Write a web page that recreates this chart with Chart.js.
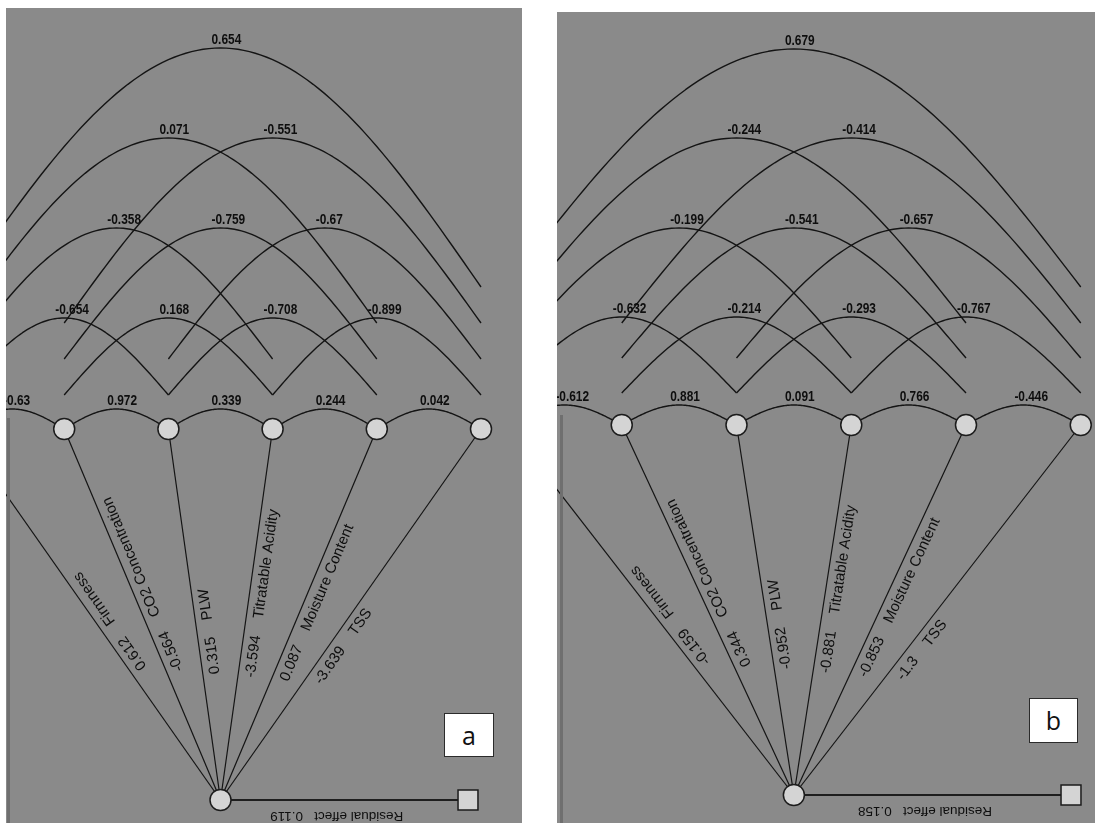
<!DOCTYPE html>
<html><head><meta charset="utf-8">
<script src="https://cdn.jsdelivr.net/npm/chart.js@4.4.1/dist/chart.umd.min.js"></script>
<style>
html,body{margin:0;padding:0;background:#fff;width:1095px;height:823px;overflow:hidden;position:relative}
.panel{position:absolute;background:#8a8a8a;overflow:hidden}
.panel canvas{position:absolute;left:0;top:0}
.bar{position:absolute;width:3px;background:#6f6f6f}
.tag{position:absolute;background:#fff;border:1.5px solid #2b2b2b;box-sizing:border-box;font-family:"Open Sans",sans-serif;font-size:25px;color:#111;display:flex;align-items:center;justify-content:center;line-height:1}
</style></head><body>
<div class="panel" id="pa" style="left:6px;top:8px;width:516px;height:815px"><canvas id="ca" width="516" height="815"></canvas></div>
<div class="panel" id="pb" style="left:557px;top:12px;width:538px;height:811px"><canvas id="cb" width="538" height="811"></canvas></div>
<div class="bar" style="left:7px;top:418px;height:405px"></div>
<div class="bar" style="left:560px;top:415px;height:408px"></div>
<div class="tag" id="ta" style="left:444px;top:713px;width:50px;height:44px"></div>
<div class="tag" id="tb" style="left:1029px;top:698px;width:49px;height:45px"></div>
<script>
// ---------- data ----------
const traits = ['Firmness','CO2 Concentration','PLW','Titratable Acidity','Moisture Content','TSS'];
const directA = [0.612, -0.564, 0.315, -3.594, 0.087, -3.639];
const directB = [-0.159, 0.344, -0.952, -0.881, -0.853, -1.3];
// correlations between trait i and trait i+span
const corrA1 = [-0.63, 0.972, 0.339, 0.244, 0.042];
const corrA2 = [-0.654, 0.168, -0.708, -0.899];
const corrA3 = [-0.358, -0.759, -0.67];
const corrA4 = [0.071, -0.551];
const corrA5 = [0.654];
const corrB1 = [-0.612, 0.881, 0.091, 0.766, -0.446];
const corrB2 = [-0.632, -0.214, -0.293, -0.767];
const corrB3 = [-0.199, -0.541, -0.657];
const corrB4 = [-0.244, -0.414];
const corrB5 = [0.679];
const residualA = 0.119;
const residualB = 0.158;
const panelTags = ['a', 'b'];

// ---------- layout (page pixels) ----------
const layoutA = {left:6, top:8, w:516, h:815, x0:-40, sp:104.2, row:429, bottom:800, resX:468,
  peaks:[20,111,201,291,381], ends:[0,34,70,106,142]};
const layoutB = {left:557, top:12, w:538, h:811, x0:507, sp:114.75, row:425, bottom:795, resX:1071,
  peaks:[20,108,197,287,376], ends:[0,32,67,102,138]};

const INK = '#141414';
const NODE_FILL = '#d4d4d4';

const pathPlugin = {
  id: 'pathDiagram',
  beforeDatasetsDraw(chart) {
    const o = chart.options.plugins.pathDiagram;
    const {ctx} = chart; const xs = chart.scales.x, ys = chart.scales.y;
    ctx.save();
    ctx.strokeStyle = INK; ctx.lineWidth = 1.4; ctx.lineJoin = 'round';
    o.corr.forEach((arr, s) => {
      const span = s + 1;
      arr.forEach((v, i) => {
        const xl = xs.getPixelForValue(i), xr = xs.getPixelForValue(i + span);
        const xc = (xl + xr) / 2, hw = (xr - xl) / 2;
        const yp = ys.getPixelForValue(o.peaks[s]), ye = ys.getPixelForValue(o.ends[s]);
        ctx.beginPath();
        const N = 90;
        for (let k = 0; k <= N; k++) {
          const t = -1 + 2 * k / N;
          const px = xc + t * hw;
          const py = yp + (ye - yp) * (1 - Math.cos(Math.PI / 2 * Math.abs(t)));
          if (k) ctx.lineTo(px, py); else ctx.moveTo(px, py);
        }
        ctx.stroke();
      });
    });
    ctx.restore();
  },
  afterDatasetsDraw(chart) {
    const o = chart.options.plugins.pathDiagram;
    const {ctx} = chart; const xs = chart.scales.x, ys = chart.scales.y;
    ctx.save();
    ctx.fillStyle = '#0e0e0e';
    // correlation labels
    ctx.font = 'bold 14.5px "Liberation Sans", Arial, sans-serif';
    ctx.textAlign = 'left'; ctx.textBaseline = 'alphabetic';
    o.corr.forEach((arr, s) => {
      const span = s + 1;
      arr.forEach((v, i) => {
        const xl = xs.getPixelForValue(i), xr = xs.getPixelForValue(i + span);
        const xc = (xl + xr) / 2;
        const yp = ys.getPixelForValue(o.peaks[s]);
        ctx.save();
        ctx.translate(xc - 9, yp - 4);
        ctx.scale(0.82, 1);
        ctx.fillText(String(v), 0, 0);
        ctx.restore();
      });
    });
    // direct effect labels along fan lines
    const bx = xs.getPixelForValue(o.mid), by = ys.getPixelForValue(o.yb);
    ctx.font = '15px "Liberation Sans", Arial, sans-serif';
    ctx.textBaseline = 'middle';
    traits.forEach((t, i) => {
      const tx = xs.getPixelForValue(i), ty = ys.getPixelForValue(0);
      const ang = Math.atan2(ty - by, tx - bx);
      const len = Math.hypot(tx - bx, ty - by);
      const vs = String(o.direct[i]);
      ctx.save();
      ctx.translate(bx, by); ctx.rotate(ang);
      const start = 0.335 * len;
      ctx.fillText(vs, start, 12.5);
      const w = ctx.measureText(vs).width;
      ctx.fillText(t, start + w + 17, 12.5);
      ctx.restore();
    });
    // residual label (upside down)
    const rx = xs.getPixelForValue(o.resX);
    ctx.font = '13.5px "Liberation Sans", Arial, sans-serif';
    ctx.save();
    ctx.translate((bx + rx) / 2 - 7.5, by + 16);
    ctx.rotate(Math.PI);
    ctx.textAlign = 'center';
    ctx.fillText('Residual effect   ' + o.resid, 0, 0);
    ctx.restore();
    ctx.restore();
  }
};

function makeChart(id, L, direct, corr, resid) {
  const n = traits.length;
  const mid = (n - 1) / 2;
  const yb = -(L.bottom - L.row);
  const resX = (L.resX - L.x0) / L.sp;
  const nodeStyle = {pointRadius:10.5, pointHoverRadius:10.5, pointBackgroundColor:NODE_FILL,
    pointBorderColor:'#1c1c1c', pointBorderWidth:1.5, showLine:false, order:0};
  const datasets = [];
  datasets.push(Object.assign({label:'traits', data: traits.map((t, i) => ({x:i, y:0}))}, nodeStyle));
  datasets.push(Object.assign({label:'outcome', data:[{x:mid, y:yb}]}, nodeStyle));
  datasets.push(Object.assign({label:'residual', data:[{x:resX, y:yb}]}, nodeStyle,
    {pointStyle:'rect', pointRadius:14.1, pointHoverRadius:14.1}));
  traits.forEach((t, i) => datasets.push({type:'line', label:t, data:[{x:mid, y:yb}, {x:i, y:0}],
    borderColor:INK, borderWidth:1.2, pointRadius:0, pointHoverRadius:0, order:2}));
  datasets.push({type:'line', label:'residual path', data:[{x:mid, y:yb}, {x:resX, y:yb}],
    borderColor:'#1e1e1e', borderWidth:2.2, pointRadius:0, pointHoverRadius:0, order:2});
  return new Chart(document.getElementById(id), {
    type:'scatter',
    data:{datasets},
    options:{
      responsive:false, devicePixelRatio:1, animation:false,
      layout:{padding:0, autoPadding:false},
      events:[],
      scales:{
        x:{type:'linear', display:false, min:(L.left - L.x0) / L.sp, max:(L.left + L.w - L.x0) / L.sp},
        y:{type:'linear', display:false, min:L.row - (L.top + L.h), max:L.row - L.top}
      },
      plugins:{
        legend:{display:false}, tooltip:{enabled:false},
        pathDiagram:{corr, direct, resid, peaks:L.peaks, ends:L.ends, mid, yb, resX}
      }
    },
    plugins:[pathPlugin]
  });
}

makeChart('ca', layoutA, directA, [corrA1, corrA2, corrA3, corrA4, corrA5], residualA);
makeChart('cb', layoutB, directB, [corrB1, corrB2, corrB3, corrB4, corrB5], residualB);
document.getElementById('ta').textContent = panelTags[0];
document.getElementById('tb').textContent = panelTags[1];
</script>
</body></html>
